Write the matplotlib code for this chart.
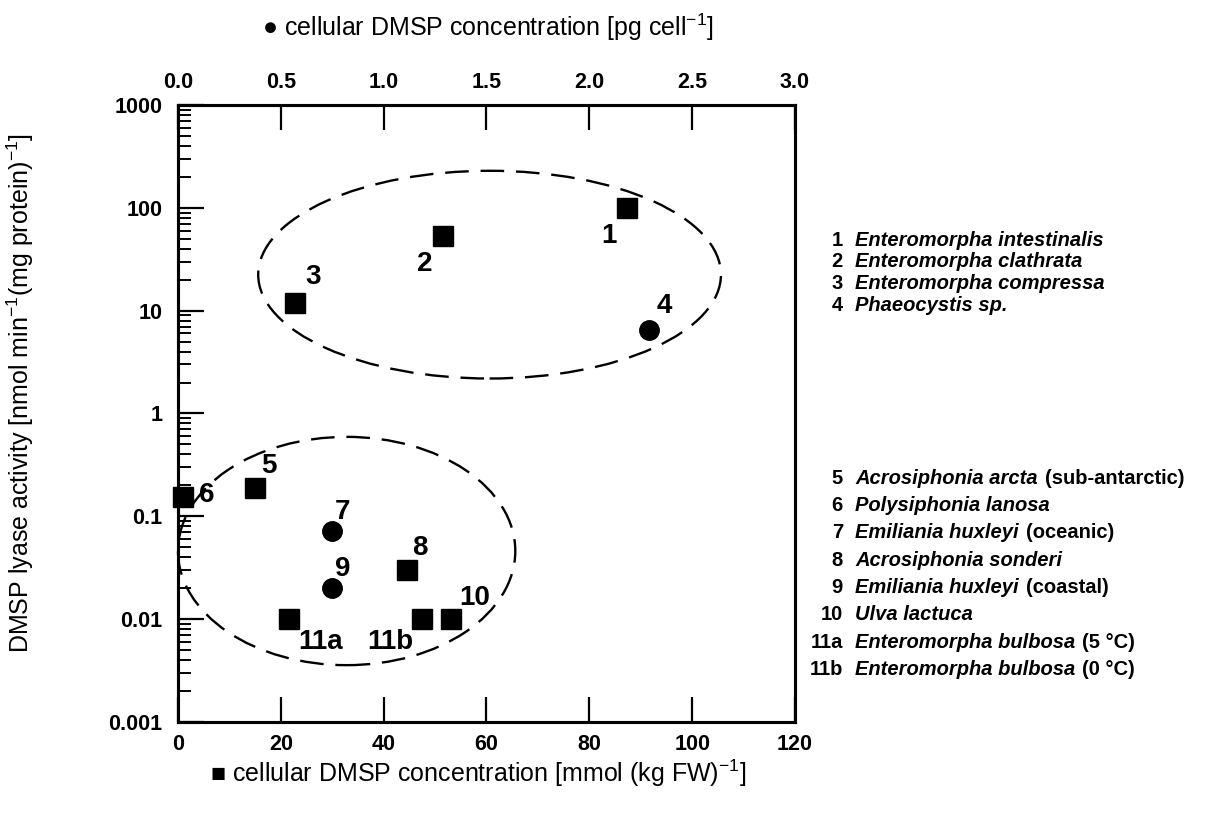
import numpy as np
import matplotlib
matplotlib.use('Agg')
from matplotlib import pyplot as plt
from matplotlib.patches import Ellipse
from matplotlib.ticker import LogLocator, NullFormatter, FixedLocator

plt.rcParams['font.family'] = ['Liberation Sans', 'DejaVu Sans']
plt.rcParams['font.weight'] = 'bold'
plt.rcParams['mathtext.default'] = 'regular'

# squares -> bottom axis, cellular DMSP [mmol (kg FW)-1]
sq_ids = ['1', '2', '3', '5', '6', '8', '10', '11a', '11b']
sq_conc = [87.4, 51.6, 22.8, 14.9, 1.0, 44.5, 53.1, 21.6, 47.5]
sq_act = [100, 53, 12, 0.19, 0.155, 0.03, 0.01, 0.01, 0.01]

# circles -> top axis, cellular DMSP [pg cell-1]
ci_ids = ['4', '7', '9']
ci_conc = [2.29, 0.75, 0.75]
ci_act = [6.5, 0.072, 0.02]

# where the number goes relative to its marker (pixels)
lbl_off = {'1': (-18, -28), '2': (-19, -28), '3': (18, 26), '4': (15, 24),
           '5': (14, 22), '6': (24, 2), '7': (10, 19), '8': (13, 22),
           '9': (10, 19), '10': (24, 21), '11a': (32, -23), '11b': (-32, -23)}

# dashed groupings: centre (x, activity), width (x units), height (decades)
upper_grp = (60.6, 22.4, 90, 2.02)
lower_grp = (32.8, 0.046, 65.6, 2.22)

# species key
key1_num = ['1', '2', '3', '4']
key1_name = ['Enteromorpha intestinalis', 'Enteromorpha clathrata',
             'Enteromorpha compressa', 'Phaeocystis sp.']
key1_note = ['', '', '', '']
key2_num = ['5', '6', '7', '8', '9', '10', '11a', '11b']
key2_name = ['Acrosiphonia arcta', 'Polysiphonia lanosa', 'Emiliania huxleyi',
             'Acrosiphonia sonderi', 'Emiliania huxleyi', 'Ulva lactuca',
             'Enteromorpha bulbosa', 'Enteromorpha bulbosa']
key2_note = ['(sub-antarctic)', '', '(oceanic)', '', '(coastal)', '',
             '(5 °C)', '(0 °C)']

W, H = 1207, 814
fig = plt.figure(figsize=(W / 100, H / 100), dpi=100)
ax = fig.add_axes([178 / W, 1 - 722 / H, 617 / W, 617 / H])
ax2 = ax.twiny()

ax.set_xlim(0, 120)
ax.set_yscale('log')
ax.set_ylim(0.001, 1000)
ax2.set_xlim(0, 3)

ax.set_xticks(np.arange(0, 121, 20))
ax.yaxis.set_major_locator(FixedLocator([0.001, 0.01, 0.1, 1, 10, 100, 1000]))
ax.set_yticklabels(['0.001', '0.01', '0.1', '1', '10', '100', '1000'])
ax.yaxis.set_minor_locator(LogLocator(base=10, subs=np.arange(2, 10)))
ax.yaxis.set_minor_formatter(NullFormatter())
ax2.set_xticks(np.arange(0, 3.01, 0.5))
ax2.set_xticklabels(['%.1f' % v for v in np.arange(0, 3.01, 0.5)])

ax.tick_params(axis='x', which='major', direction='in', length=18, width=1.6,
               top=False, labelsize=15.5, pad=9)
ax.tick_params(axis='y', which='major', direction='in', length=19, width=1.6,
               right=False, labelsize=15.5, pad=11)
ax.tick_params(axis='y', which='minor', direction='in', length=9, width=1.4,
               right=False)
ax2.tick_params(axis='x', direction='in', length=18, width=1.6, bottom=False,
                labelsize=15.5, pad=9)
for a in (ax, ax2):
    for s in a.spines.values():
        s.set_linewidth(2.2)

ax.plot(sq_conc, sq_act, 's', color='black', ms=14, clip_on=False, zorder=5)
ax2.plot(ci_conc, ci_act, 'o', color='black', ms=14, clip_on=False, zorder=5)

for i, x, y in zip(sq_ids, sq_conc, sq_act):
    ax.annotate(i, (x, y), xytext=lbl_off[i], textcoords='offset pixels',
                ha='center', va='center', fontsize=20, fontweight='bold')
for i, x, y in zip(ci_ids, ci_conc, ci_act):
    ax2.annotate(i, (x, y), xytext=lbl_off[i], textcoords='offset pixels',
                 ha='center', va='center', fontsize=20, fontweight='bold')

# ellipses drawn in (x, log10 y) space
tr = ax.transLimits + ax.transAxes
for cx, cy, w, h in (upper_grp, lower_grp):
    ax.add_patch(Ellipse((cx, np.log10(cy)), w, h, transform=tr, fill=False,
                         ec='black', lw=1.7, ls=(0, (10, 5)), clip_on=False))

# axis titles
fig.text(488 / W, 1 - 27 / H, '\u25cf cellular DMSP concentration [pg cell$^{-1}$]',
         ha='center', va='center', fontsize=18, fontweight='normal')
fig.text(478 / W, 1 - 773 / H,
         '\u25a0 cellular DMSP concentration [mmol (kg FW)$^{-1}$]',
         ha='center', va='center', fontsize=18, fontweight='normal')
fig.text(20 / W, 1 - 393 / H,
         'DMSP lyase activity [nmol min$^{-1}$(mg protein)$^{-1}$]',
         ha='center', va='center', rotation=90, fontsize=18, fontweight='normal')


def species_key(nums, names, notes, y0, dy):
    for k, (n, nm, nt) in enumerate(zip(nums, names, notes)):
        y = 1 - (y0 + k * dy) / H
        fig.text(843 / W, y, n, ha='right', va='center', fontsize=14.5,
                 fontweight='bold')
        t = fig.text(855 / W, y, nm, ha='left', va='center', fontsize=14.5,
                     fontweight='bold', style='italic')
        if nt:
            ax.annotate(nt, xy=(1, 0.5), xycoords=t, xytext=(7, 0),
                        textcoords='offset pixels', ha='left', va='center',
                        fontsize=14.5, fontweight='bold',
                        annotation_clip=False)


species_key(key1_num, key1_name, key1_note, 240, 21.8)
species_key(key2_num, key2_name, key2_note, 478, 27.4)

fig.savefig('out.png', dpi=100)
